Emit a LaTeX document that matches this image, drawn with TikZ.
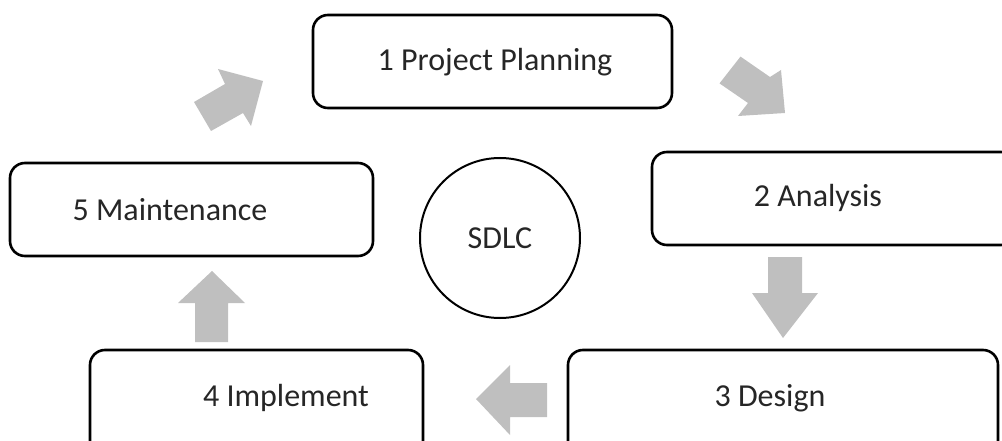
\documentclass[tikz,border=0pt]{standalone}
\usepackage{fontspec}
\setmainfont{Carlito}
\begin{document}
\begin{tikzpicture}[x=1pt,y=-1pt,
  stagebox/.style={draw=black, line width=2.6pt, rounded corners=15pt, fill=white},
  stagetext/.style={font=\fontsize{32}{38}\selectfont, inner sep=0pt, text=black!85},
  blockarrow/.style={fill=black!25, draw=none}]
  \useasboundingbox (0,0) rectangle (1002,441);
  \begin{scope}
    \clip (0,0) rectangle (1002,441);
    % stage boxes
    \draw[stagebox] (313,15) rectangle (672,108);
    \draw[stagebox] (652,152) rectangle (1016,245);
    \draw[stagebox] (568,350) rectangle (998,460);
    \draw[stagebox] (90,350) rectangle (423,460);
    \draw[stagebox] (10,163) rectangle (373,256);
  \end{scope}
  % stage labels
  \node[stagetext] (s1) at (495,62) {1 Project Planning};
  \node[stagetext] (s2) at (818,198) {2 Analysis};
  \node[stagetext] (s3) at (770,398) {3 Design};
  \node[stagetext] (s4) at (286,398) {4 Implement};
  \node[stagetext] (s5) at (170,210) {5 Maintenance};
  % centre
  \node[draw=black, line width=2pt, circle, minimum size=160pt, inner sep=0pt,
        font=\fontsize{32}{38}\selectfont, text=black!85] (c) at (500,238) {SDLC};
  % block arrows between stages
  \fill[blockarrow] (194,102) -- (225,84) -- (218,69) -- (263,81) -- (251,126)
                    -- (243,113) -- (211,131) -- cycle;
  \fill[blockarrow] (740.5,56.6) -- (770,77) -- (781,70) -- (785,113) -- (738,116)
                    -- (748,103) -- (719.5,83.4) -- cycle;
  \fill[blockarrow] (768,257) -- (802,257) -- (802,293) -- (818,293) -- (783,338)
                    -- (752,293) -- (768,293) -- cycle;
  \fill[blockarrow] (547,383) -- (547,417) -- (510,417) -- (510,435) -- (476,399)
                    -- (510,365) -- (510,383) -- cycle;
  \fill[blockarrow] (195,342) -- (195,303) -- (178,303) -- (212,271) -- (245,303)
                    -- (228,303) -- (228,342) -- cycle;
\end{tikzpicture}
\end{document}
